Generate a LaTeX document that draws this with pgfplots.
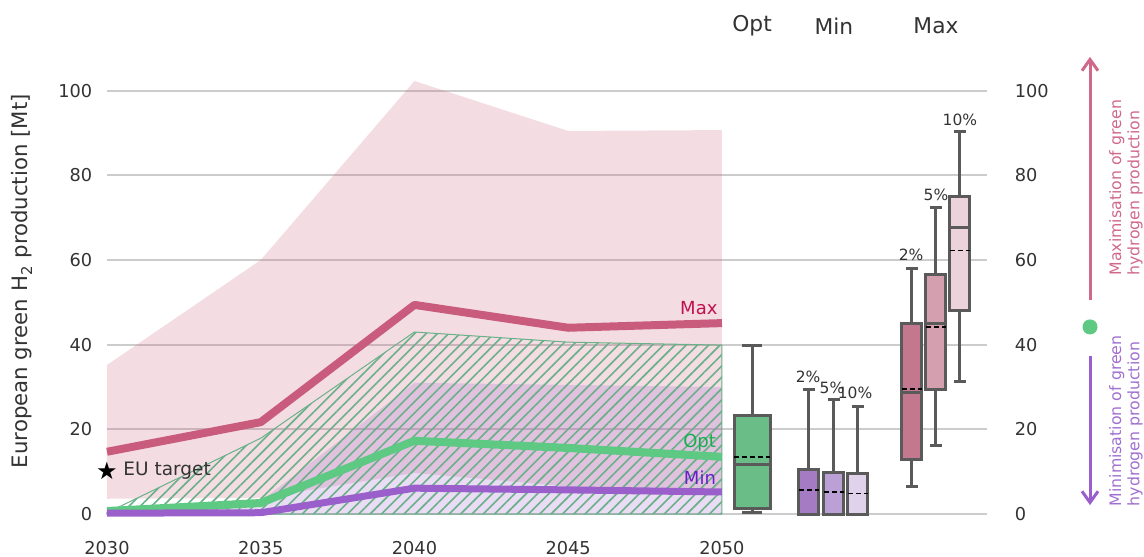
\documentclass[border=0pt]{standalone}
\usepackage{pgfplots}
\pgfplotsset{compat=1.18}
\usepackage{pgfplotstable}
\usetikzlibrary{patterns.meta,arrows.meta}
\usepackage{fontspec}
\setmainfont{DejaVu Sans}

\definecolor{maxc}{HTML}{C95C7D}
\definecolor{optc}{HTML}{5DC983}
\definecolor{minc}{HTML}{9B5FCC}
\definecolor{hatchc}{HTML}{6AB088}
\definecolor{maxlab}{HTML}{C0104F}
\definecolor{optlab}{HTML}{14B04C}
\definecolor{minlab}{HTML}{6A1EC8}
\definecolor{txt}{HTML}{333333}
\definecolor{gridc}{HTML}{CCCCCC}
\definecolor{boxe}{HTML}{5A5A5A}
\definecolor{boxopt}{HTML}{6BBD87}
\definecolor{boxmina}{HTML}{A57BC4}
\definecolor{boxminb}{HTML}{BBA0D6}
\definecolor{boxminc}{HTML}{E0D2EB}
\definecolor{boxmaxa}{HTML}{C4788F}
\definecolor{boxmaxb}{HTML}{D4A0AF}
\definecolor{boxmaxc}{HTML}{ECD3DB}
\definecolor{arrmax}{HTML}{D0688A}
\definecolor{arrmin}{HTML}{9B5FCC}
\definecolor{txtmax}{HTML}{D0688A}
\definecolor{txtmin}{HTML}{A070D0}

% t = years after 2030
\pgfplotstableread{
t maxline optline minline
0 14.7 0.7 0.2
5 21.7 2.6 0.3
10 49.4 17.3 6.1
15 44.0 15.6 5.7
20 45.1 13.5 5.2
}\trajdata

\newcommand{\fsz}[1]{\fontsize{#1}{#1}\selectfont}
% box geometry: centre, left, right, cap left, cap right, fill colour
\newcommand{\boxgeom}[6]{\def\bxc{#1}\def\bxl{#2}\def\bxr{#3}\def\bxcl{#4}\def\bxcr{#5}\def\bxcol{#6}}
% box data: lower whisker, q1, median, q3, upper whisker, mean
\newcommand{\boxdata}[6]{%
  \addplot[boxe, line width=1.2pt] coordinates {(\bxc,#1) (\bxc,#2)};
  \addplot[boxe, line width=1.2pt] coordinates {(\bxc,#4) (\bxc,#5)};
  \addplot[boxe, line width=1.2pt] coordinates {(\bxcl,#5) (\bxcr,#5)};
  \addplot[boxe, line width=1.2pt] coordinates {(\bxcl,#1) (\bxcr,#1)};
  \edef\bxfill{\noexpand\addplot[draw=boxe, fill=\bxcol, line width=1.2pt, line join=miter]}%
  \bxfill coordinates {(\bxl,#2) (\bxr,#2) (\bxr,#4) (\bxl,#4)} -- cycle;
  \addplot[boxe, line width=1.2pt] coordinates {(\bxl,#3) (\bxr,#3)};
  \addplot[black, line width=0.6pt, dash pattern=on 2pt off 1.2pt] coordinates {(\bxl,#6) (\bxr,#6)};
}

\begin{document}
\begin{tikzpicture}
\path[use as bounding box] (-42.8pt,-16.8pt) rectangle (414.8pt,205.6pt);
\begin{axis}[
  at={(0,0)}, anchor=south west,
  width=352pt, height=186.24pt, scale only axis,
  xmin=0, xmax=28.62, ymin=0, ymax=110,
  clip=false,
  axis line style={draw=none},
  major tick length=0pt,
  xtick={0,5,10,15,20},
  xticklabels={2030,2035,2040,2045,2050},
  ytick={0,20,40,60,80,100},
  ymajorgrids, grid style={gridc, line width=0.8pt},
  /pgf/number format/assume math mode=true,
  x tick label style={yshift=-7.2pt},
  y tick label style={xshift=-2.4pt},
  tick label style={font=\fsz{7.1}, text=txt},
  ylabel={European green H\textsubscript{2} production [Mt]},
  every axis y label/.style={at={(axis description cs:-0.0966,0.5)}, rotate=90, anchor=center, font=\fsz{8.5}, text=txt},
]
% areas
\addplot[fill=maxc, fill opacity=0.21, draw=none] coordinates {(0,35.2) (5,60.0) (10,102.3) (15,90.5) (20,90.7) (20,5.5) (15,6.5) (10,9.7) (5,3.8) (0,3.6)} -- cycle;
\addplot[fill=minc, fill opacity=0.22, draw=none] coordinates {(0,0.5) (5,3.0) (10,31.0) (15,30.5) (20,30.0) (20,0) (0,0)} -- cycle;
\addplot[draw=hatchc, line width=0.4pt, pattern={Lines[angle=45,distance=3.2pt,line width=0.65pt]}, pattern color=hatchc] coordinates {(0,0.3) (5,17.9) (10,43.0) (15,40.6) (20,39.9) (20,0) (0,0)} -- cycle;
% lines
\addplot[maxc, line width=3.2pt, line join=round] table[x=t,y=maxline]{\trajdata};
\addplot[optc, line width=3.2pt, line join=round] table[x=t,y=optline]{\trajdata};
\addplot[minc, line width=2.8pt, line join=round] table[x=t,y=minline]{\trajdata};
% EU target
\addplot[only marks, mark=text, text mark={★}, text mark as node=true, text mark style={font=\fsz{9.6}, text=black, inner sep=0pt}] coordinates {(0,10.2)};
\node[anchor=west, inner sep=0pt, font=\fsz{7.4}, text=txt] at (axis cs:0.52,10.2) {EU target};
% line labels
\node[anchor=east, inner sep=0pt, font=\fsz{7.2}, text=maxlab] at (axis cs:19.87,48.7) {Max};
\node[anchor=east, inner sep=0pt, font=\fsz{7.2}, text=optlab] at (axis cs:19.82,16.8) {Opt};
\node[anchor=east, inner sep=0pt, font=\fsz{7.2}, text=minlab] at (axis cs:19.82,8.5) {Min};
% box plots
\boxgeom{20.98}{20.395}{21.565}{20.655}{21.305}{boxopt}
\boxdata{0.3}{1.2}{11.8}{23.2}{39.7}{13.5}
\boxgeom{22.83}{22.505}{23.155}{22.635}{23.025}{boxmina}
\boxdata{0}{0}{0}{10.6}{29.5}{5.7}
\boxgeom{23.64}{23.315}{23.965}{23.445}{23.835}{boxminb}
\boxdata{0}{0}{0}{9.9}{27.0}{5.2}
\boxgeom{24.42}{24.095}{24.745}{24.225}{24.615}{boxminc}
\boxdata{0}{0}{0}{9.5}{25.5}{4.8}
\boxgeom{26.18}{25.855}{26.505}{25.985}{26.375}{boxmaxa}
\boxdata{6.4}{12.8}{28.6}{45.1}{58.1}{29.5}
\boxgeom{26.96}{26.635}{27.285}{26.765}{27.155}{boxmaxb}
\boxdata{16.3}{29.3}{44.9}{56.7}{72.3}{44.2}
\boxgeom{27.74}{27.415}{28.065}{27.545}{27.935}{boxmaxc}
\boxdata{31.2}{48.0}{67.8}{74.9}{90.3}{62.2}
% titles
\node[font=\fsz{8.7}, text=txt] at (axis cs:20.98,115.3) {Opt};
\node[font=\fsz{8.7}, text=txt] at (axis cs:23.64,115.3) {Min};
\node[font=\fsz{8.7}, text=txt] at (axis cs:26.96,115.3) {Max};
% percent labels
\node[font=\fsz{6.2}, text=txt] at (axis cs:22.80,32.4) {2\%};
\node[font=\fsz{6.2}, text=txt] at (axis cs:23.58,29.8) {5\%};
\node[font=\fsz{6.2}, text=txt] at (axis cs:24.33,28.6) {10\%};
\node[font=\fsz{6.2}, text=txt] at (axis cs:26.15,61.2) {2\%};
\node[font=\fsz{6.2}, text=txt] at (axis cs:26.96,75.4) {5\%};
\node[font=\fsz{6.2}, text=txt] at (axis cs:27.74,93.1) {10\%};
% right annotations
\draw[arrmax, line width=1.2pt, -{Straight Barb[length=4.5pt,width=6.4pt]}] (axis cs:31.97,50.5) -- (axis cs:31.97,108);
\draw[arrmin, line width=1.2pt, -{Straight Barb[length=4.5pt,width=6.4pt]}] (axis cs:31.97,37.4) -- (axis cs:31.97,2.1);
\addplot[only marks, mark=*, mark size=2.8pt, color=optc] coordinates {(31.97,44.2)};
\node[rotate=90, align=left, font=\fontsize{6.3}{7.3}\selectfont, text=txtmax] at (axis cs:33.14,77.1) {Maximisation of green\\hydrogen production};
\node[rotate=90, align=left, font=\fontsize{6.3}{7.3}\selectfont, text=txtmin] at (axis cs:33.14,22.0) {Minimisation of green\\hydrogen production};
\end{axis}
\begin{axis}[
  at={(0,0)}, anchor=south west,
  width=352pt, height=186.24pt, scale only axis,
  xmin=0, xmax=28.62, ymin=0, ymax=110,
  axis line style={draw=none},
  major tick length=0pt,
  xtick=\empty,
  ytick={0,20,40,60,80,100},
  yticklabel pos=right,
  /pgf/number format/assume math mode=true,
  y tick label style={xshift=7.6pt},
  tick label style={font=\fsz{7.1}, text=txt},
]
\addplot[draw=none] coordinates {(0,0)};
\end{axis}
\end{tikzpicture}
\end{document}
